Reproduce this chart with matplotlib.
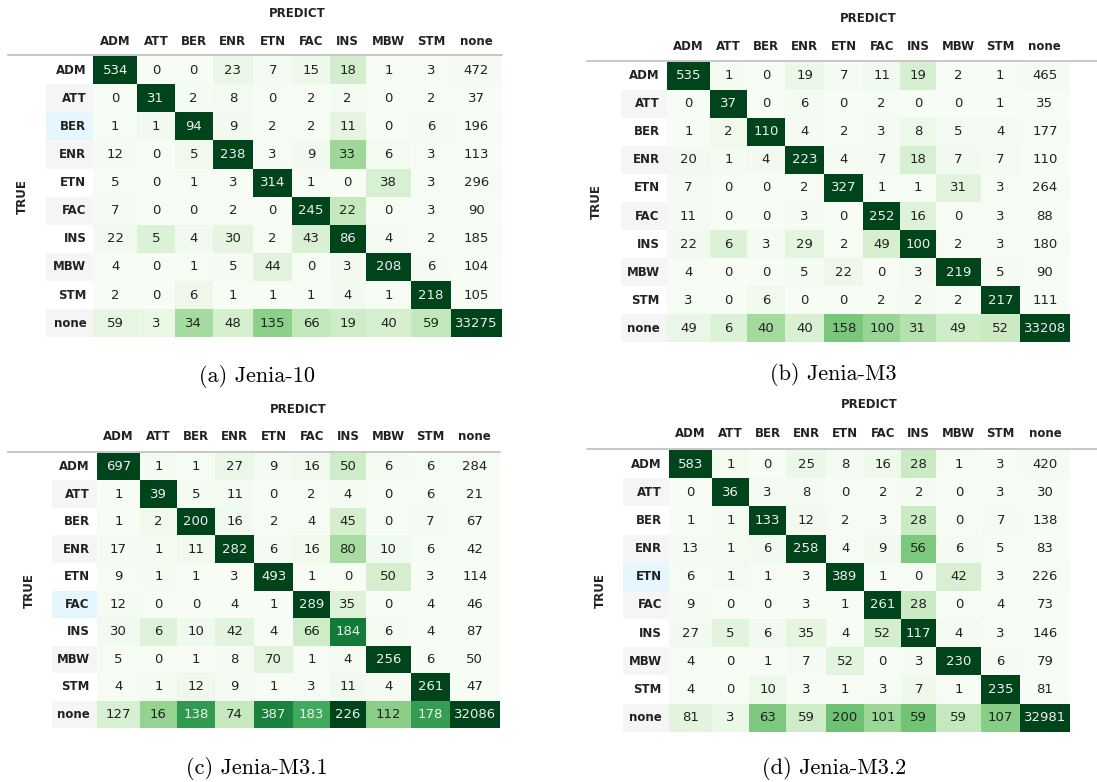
"""Cuatro matrices de confusión (estilo tabla pandas con degradado Greens por columna)."""
import numpy as np
import matplotlib
matplotlib.use("Agg")
import matplotlib.pyplot as plt

ETIQUETAS = ["ADM", "ATT", "BER", "ENR", "ETN", "FAC", "INS", "MBW", "STM", "none"]

CM_JENIA_10 = [
    [534, 0, 0, 23, 7, 15, 18, 1, 3, 472],
    [0, 31, 2, 8, 0, 2, 2, 0, 2, 37],
    [1, 1, 94, 9, 2, 2, 11, 0, 6, 196],
    [12, 0, 5, 238, 3, 9, 33, 6, 3, 113],
    [5, 0, 1, 3, 314, 1, 0, 38, 3, 296],
    [7, 0, 0, 2, 0, 245, 22, 0, 3, 90],
    [22, 5, 4, 30, 2, 43, 86, 4, 2, 185],
    [4, 0, 1, 5, 44, 0, 3, 208, 6, 104],
    [2, 0, 6, 1, 1, 1, 4, 1, 218, 105],
    [59, 3, 34, 48, 135, 66, 19, 40, 59, 33275],
]
CM_JENIA_M3 = [
    [535, 1, 0, 19, 7, 11, 19, 2, 1, 465],
    [0, 37, 0, 6, 0, 2, 0, 0, 1, 35],
    [1, 2, 110, 4, 2, 3, 8, 5, 4, 177],
    [20, 1, 4, 223, 4, 7, 18, 7, 7, 110],
    [7, 0, 0, 2, 327, 1, 1, 31, 3, 264],
    [11, 0, 0, 3, 0, 252, 16, 0, 3, 88],
    [22, 6, 3, 29, 2, 49, 100, 2, 3, 180],
    [4, 0, 0, 5, 22, 0, 3, 219, 5, 90],
    [3, 0, 6, 0, 0, 2, 2, 2, 217, 111],
    [49, 6, 40, 40, 158, 100, 31, 49, 52, 33208],
]
CM_JENIA_M31 = [
    [697, 1, 1, 27, 9, 16, 50, 6, 6, 284],
    [1, 39, 5, 11, 0, 2, 4, 0, 6, 21],
    [1, 2, 200, 16, 2, 4, 45, 0, 7, 67],
    [17, 1, 11, 282, 6, 16, 80, 10, 6, 42],
    [9, 1, 1, 3, 493, 1, 0, 50, 3, 114],
    [12, 0, 0, 4, 1, 289, 35, 0, 4, 46],
    [30, 6, 10, 42, 4, 66, 184, 6, 4, 87],
    [5, 0, 1, 8, 70, 1, 4, 256, 6, 50],
    [4, 1, 12, 9, 1, 3, 11, 4, 261, 47],
    [127, 16, 138, 74, 387, 183, 226, 112, 178, 32086],
]
CM_JENIA_M32 = [
    [583, 1, 0, 25, 8, 16, 28, 1, 3, 420],
    [0, 36, 3, 8, 0, 2, 2, 0, 3, 30],
    [1, 1, 133, 12, 2, 3, 28, 0, 7, 138],
    [13, 1, 6, 258, 4, 9, 56, 6, 5, 83],
    [6, 1, 1, 3, 389, 1, 0, 42, 3, 226],
    [9, 0, 0, 3, 1, 261, 28, 0, 4, 73],
    [27, 5, 6, 35, 4, 52, 117, 4, 3, 146],
    [4, 0, 1, 7, 52, 0, 3, 230, 6, 79],
    [4, 0, 10, 3, 1, 3, 7, 1, 235, 81],
    [81, 3, 63, 59, 200, 101, 59, 59, 107, 32981],
]
TITULOS = ["(a) Jenia-10", "(b) Jenia-M3", "(c) Jenia-M3.1", "(d) Jenia-M3.2"]
MATRICES = [CM_JENIA_10, CM_JENIA_M3, CM_JENIA_M31, CM_JENIA_M32]
FILA_RESALTADA = [2, None, 5, 4]  # fila con el hover azul de Jupyter

W, H = 1097, 782
ANCHOS = np.array([43.4, 37, 38, 39.6, 39, 37, 35.5, 45.3, 39, 50.4])

# geometría en píxeles: celdas (x0, x1, y0, y1), col. cabecera, línea, PREDICT, etiquetas, TRUE, pie
PANELES = [
    dict(celdas=(93.3, 501.7, 56, 337.3), cab=46, linea=(8, 502), pred=13.3, col=41.7,
         true=22.7, pie=(257, 377)),
    dict(celdas=(666.7, 1070, 61.7, 342.3), cab=620.7, linea=(587, 1097), pred=18.3, col=46.7,
         true=596.7, pie=(833, 375)),
    dict(celdas=(96.7, 500, 452.7, 728.3), cab=51.7, linea=(8, 500), pred=409.3, col=436.7,
         true=29, pie=(257, 768)),
    dict(celdas=(669, 1070, 450, 731.7), cab=623.3, linea=(587.3, 1097), pred=405, col=433.3,
         true=600, pie=(834, 768)),
]


def luminancia(rgba):
    c = np.array(rgba[:3])
    c = np.where(c <= 0.04045, c / 12.92, ((c + 0.055) / 1.055) ** 2.4)
    return 0.2126 * c[0] + 0.7152 * c[1] + 0.0722 * c[2]


fig = plt.figure(figsize=(W / 100, H / 100), dpi=100)
cmap = plt.get_cmap("Greens")

for cm, titulo, resalta, p in zip(MATRICES, TITULOS, FILA_RESALTADA, PANELES):
    cm = np.array(cm, dtype=float)
    x0, x1, y0, y1 = p["celdas"]
    ax = fig.add_axes([x0 / W, 1 - y1 / H, (x1 - x0) / W, (y1 - y0) / H])
    bordes = x0 + np.concatenate([[0], np.cumsum(ANCHOS)]) * (x1 - x0) / ANCHOS.sum()
    centros = (bordes[:-1] + bordes[1:]) / 2
    n = cm.shape[0]

    # degradado por columna como Styler.background_gradient(axis=0)
    mn, mx = cm.min(axis=0), cm.max(axis=0)
    norm = (cm - mn) / np.where(mx > mn, mx - mn, 1)
    ax.pcolormesh(bordes, np.arange(n + 1), norm, cmap=cmap, vmin=0, vmax=1)
    ax.set_xlim(x0, x1)
    ax.set_ylim(n, 0)
    ax.axis("off")

    for i in range(n):
        for j in range(n):
            color = "#f1f1f1" if luminancia(cmap(norm[i, j])) < 0.408 else "#222222"
            ax.text(centros[j], i + 0.5, f"{int(cm[i, j])}", ha="center", va="center",
                    fontsize=9.5, color=color)

    # columna de cabecera de filas (rayado alterno + hover)
    for i, et in enumerate(ETIQUETAS):
        fondo = "#e6f6fe" if i == resalta else ("#f5f5f5" if i % 2 == 1 else "white")
        ax.barh(i + 0.5, x0 - p["cab"], left=p["cab"], height=1, color=fondo,
                clip_on=False, zorder=0)
        ax.text(x0 - 7, i + 0.5, et, ha="right", va="center", fontsize=8.5,
                fontweight="bold", color="#222222", clip_on=False)

    fila = (y1 - y0) / n
    ax.plot(p["linea"], [-0.03, -0.03], color="#bdbdbd", lw=1.2, clip_on=False)
    for j, et in enumerate(ETIQUETAS):
        ax.text(centros[j], (p["col"] - y0) / fila, et, ha="center", va="center",
                fontsize=8.5, fontweight="bold", color="#222222", clip_on=False)

    fig.text((x0 + x1) / 2 / W, 1 - p["pred"] / H, "PREDICT", ha="center", va="center",
             fontsize=8.5, fontweight="bold", color="#222222")
    fig.text(p["true"] / W, 1 - (y0 + y1) / 2 / H, "TRUE", ha="center", va="center",
             rotation=90, fontsize=8.5, fontweight="bold", color="#222222")
    fig.text(p["pie"][0] / W, 1 - p["pie"][1] / H, titulo, ha="center", va="center",
             fontsize=16, family="cmr10")

plt.savefig("out.png", dpi=100)
